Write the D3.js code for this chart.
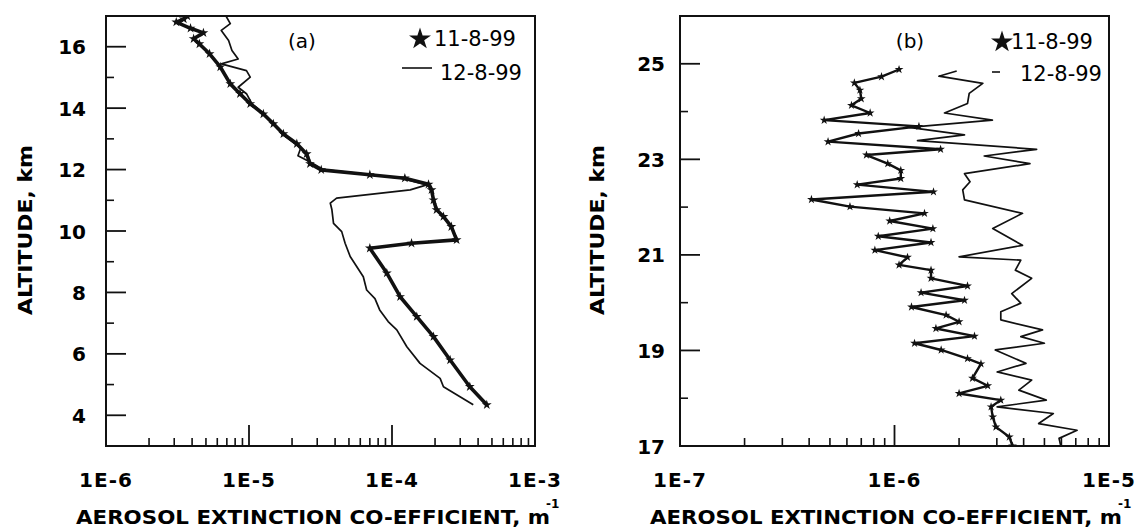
<!DOCTYPE html>
<html><head><meta charset="utf-8">
<script src="https://cdn.jsdelivr.net/npm/d3@7"></script>
<style>body{margin:0;background:#fff}svg{display:block}</style>
</head><body>
<svg id="c" width="1141" height="531"></svg>
<script>
// ---------- data ----------
const seriesNames = ["11-8-99", "12-8-99"];
const panelLabels = ["(a)", "(b)"];
const yTitle = "ALTITUDE, km";
const xTitle = "AEROSOL EXTINCTION CO-EFFICIENT, m";
const xTitleSup = "-1";

const xTickValuesA = [1e-6, 1e-5, 1e-4, 1e-3];
const xTickLabelsA = ["1E-6", "1E-5", "1E-4", "1E-3"];
const yTickValuesA = [4, 6, 8, 10, 12, 14, 16];
const yMinorA = [5, 7, 9, 11, 13, 15];

const xTickValuesB = [1e-7, 1e-6, 1e-5];
const xTickLabelsB = ["1E-7", "1E-6", "1E-5"];
const yTickValuesB = [17, 19, 21, 23, 25];
const yMinorB = [18, 20, 22, 24];

// panel (a) 11-8-99
const altA1 = [4.34, 4.93, 5.80, 6.56, 7.21, 7.86, 8.63, 9.44, 9.60, 9.71, 10.14, 10.47, 10.69, 11.01, 11.34, 11.52, 11.72, 11.83, 11.99, 12.19, 12.51, 12.84, 13.16, 13.49, 13.81, 14.14, 14.47, 14.79, 15.34, 15.77, 16.09, 16.26, 16.45, 16.6, 16.8, 16.9, 17.0];
const extA1 = [4.6e-4, 3.5e-4, 2.55e-4, 1.95e-4, 1.49e-4, 1.14e-4, 9.2e-5, 7.0e-5, 1.37e-4, 2.83e-4, 2.6e-4, 2.29e-4, 2.05e-4, 1.95e-4, 1.89e-4, 1.8e-4, 1.23e-4, 7.0e-5, 3.2e-5, 2.67e-5, 2.53e-5, 2.16e-5, 1.74e-5, 1.48e-5, 1.26e-5, 1.02e-5, 8.65e-6, 7.4e-6, 6.3e-6, 5.3e-6, 4.5e-6, 4.1e-6, 4.8e-6, 3.9e-6, 3.1e-6, 3.5e-6, 3.7e-6];
// panel (a) 12-8-99
const altA2 = [4.34, 4.93, 5.2, 5.69, 6.23, 6.78, 7.05, 7.43, 7.8, 8.08, 8.51, 9.17, 9.6, 9.98, 10.25, 10.69, 10.91, 11.07, 11.34, 11.5, 11.72, 11.85, 12.0, 12.2, 12.45, 12.7, 12.84, 13.16, 13.49, 13.81, 14.14, 14.47, 14.68, 15.01, 15.22, 15.44, 15.6, 15.88, 16.2, 16.53, 16.75, 17.0];
const extA2 = [3.7e-4, 2.29e-4, 2.17e-4, 1.57e-4, 1.27e-4, 1.08e-4, 9.4e-5, 8.2e-5, 7.6e-5, 6.65e-5, 6.3e-5, 5.1e-5, 4.7e-5, 4.45e-5, 3.9e-5, 3.8e-5, 3.7e-5, 4.1e-5, 1.34e-4, 1.75e-4, 1.15e-4, 6.5e-5, 3.3e-5, 2.8e-5, 2.2e-5, 2.3e-5, 2.1e-5, 1.7e-5, 1.5e-5, 1.28e-5, 1.05e-5, 9.6e-6, 8.4e-6, 1.02e-5, 9.6e-6, 6.4e-6, 8.4e-6, 7.6e-6, 7.2e-6, 6.4e-6, 7.4e-6, 6.9e-6];

// panel (b) 11-8-99
const altB1 = [17.0, 17.19, 17.4, 17.61, 17.82, 17.96, 18.1, 18.26, 18.42, 18.72, 18.83, 19.01, 19.15, 19.3, 19.46, 19.6, 19.74, 19.91, 20.05, 20.21, 20.35, 20.51, 20.68, 20.79, 20.95, 21.1, 21.26, 21.39, 21.55, 21.71, 21.87, 22.01, 22.16, 22.32, 22.47, 22.6, 22.77, 22.91, 23.09, 23.21, 23.37, 23.54, 23.69, 23.82, 23.97, 24.13, 24.27, 24.45, 24.6, 24.73, 24.88];
const extB1 = [3.55e-6, 3.43e-6, 2.97e-6, 2.87e-6, 2.82e-6, 3.13e-6, 2.0e-6, 2.72e-6, 2.31e-6, 2.53e-6, 2.19e-6, 1.65e-6, 1.24e-6, 2.36e-6, 1.56e-6, 2.0e-6, 1.74e-6, 1.2e-6, 2.12e-6, 1.33e-6, 2.19e-6, 1.48e-6, 1.48e-6, 1.05e-6, 1.15e-6, 8.1e-7, 1.48e-6, 8.4e-7, 1.51e-6, 9.5e-7, 1.38e-6, 6.2e-7, 4.1e-7, 1.52e-6, 6.7e-7, 1.07e-6, 1.07e-6, 9.3e-7, 7.4e-7, 1.64e-6, 4.9e-7, 6.8e-7, 1.3e-6, 4.7e-7, 7.7e-7, 6.3e-7, 7.0e-7, 6.9e-7, 6.5e-7, 8.7e-7, 1.05e-6];
// panel (b) 12-8-99
const altB2 = [17.0, 17.16, 17.33, 17.47, 17.68, 17.82, 17.96, 18.17, 18.38, 18.55, 18.73, 19.01, 19.15, 19.29, 19.43, 19.64, 19.81, 19.99, 20.19, 20.51, 20.68, 20.89, 20.96, 21.2, 21.55, 21.87, 22.15, 22.36, 22.53, 22.7, 22.91, 23.07, 23.21, 23.39, 23.51, 23.67, 23.82, 23.97, 24.17, 24.38, 24.59, 24.74, 24.85];
const extB2 = [5.96e-6, 5.85e-6, 7.1e-6, 4.7e-6, 5.5e-6, 3.01e-6, 5.1e-6, 3.8e-6, 4.36e-6, 3.01e-6, 4.1e-6, 2.95e-6, 5.0e-6, 3.88e-6, 4.9e-6, 3.13e-6, 3.13e-6, 3.88e-6, 3.52e-6, 4.36e-6, 3.66e-6, 3.88e-6, 2.0e-6, 3.95e-6, 2.87e-6, 3.95e-6, 2.12e-6, 2.08e-6, 2.25e-6, 2.12e-6, 4.28e-6, 2.62e-6, 4.6e-6, 1.28e-6, 2.12e-6, 1.17e-6, 2.86e-6, 1.71e-6, 2.19e-6, 2.23e-6, 2.58e-6, 1.61e-6, 1.95e-6];

// ---------- drawing ----------
const svg = d3.select("#c");
const FONT = "'DejaVu Sans', sans-serif";
const zip = (a, e) => a.map((v, i) => ({a: v, e: e[i]}));

function panel(o) {
  const g = svg.append("g");
  const x = d3.scaleLog().domain(o.xDomain).range([o.left, o.right]);
  const y = d3.scaleLinear().domain(o.yDomain).range([o.bottom, o.top]);

  const clipId = "clip" + o.id;
  svg.append("defs").append("clipPath").attr("id", clipId)
    .append("rect").attr("x", o.left).attr("y", o.top)
    .attr("width", o.right - o.left).attr("height", o.bottom - o.top);

  // minor x ticks
  const p0 = Math.round(Math.log10(o.xDomain[0])), p1 = Math.round(Math.log10(o.xDomain[1]));
  const minor = [];
  for (let p = p0; p < p1; p++) for (let m = 2; m <= 9; m++) minor.push(m * Math.pow(10, p));
  g.selectAll("line.mx").data(minor).join("line")
    .attr("x1", d => x(d)).attr("x2", d => x(d))
    .attr("y1", o.bottom).attr("y2", o.bottom - 8)
    .attr("stroke", "#111").attr("stroke-width", 1.6);
  // major x ticks (interior decades)
  const majors = o.xTicks.filter((d, i) => i > 0 && i < o.xTicks.length - 1);
  g.selectAll("line.Mx").data(majors).join("line")
    .attr("x1", d => x(d)).attr("x2", d => x(d))
    .attr("y1", o.bottom).attr("y2", o.bottom - 21)
    .attr("stroke", "#111").attr("stroke-width", 1.8);
  // x tick labels
  g.selectAll("text.xl").data(o.xTicks).join("text")
    .attr("x", d => x(d)).attr("y", 487)
    .attr("text-anchor", "middle")
    .attr("font-family", FONT).attr("font-weight", "bold").attr("font-size", 20)
    .attr("letter-spacing", 1)
    .text((d, i) => o.xLabels[i]);

  // y ticks
  g.selectAll("line.My").data(o.yTicks).join("line")
    .attr("x1", o.left).attr("x2", o.left + 20)
    .attr("y1", d => y(d)).attr("y2", d => y(d))
    .attr("stroke", "#111").attr("stroke-width", 1.8);
  g.selectAll("line.my").data(o.yMinor).join("line")
    .attr("x1", o.left).attr("x2", o.left + 8)
    .attr("y1", d => y(d)).attr("y2", d => y(d))
    .attr("stroke", "#111").attr("stroke-width", 1.6);
  g.selectAll("text.yl").data(o.yTicks).join("text")
    .attr("x", o.yLabelX).attr("y", d => y(d) + 7.5)
    .attr("text-anchor", "end")
    .attr("font-family", FONT).attr("font-weight", "bold").attr("font-size", 20)
    .text(d => d);

  // frame
  g.append("rect").attr("x", o.left).attr("y", o.top)
    .attr("width", o.right - o.left).attr("height", o.bottom - o.top)
    .attr("fill", "none").attr("stroke", "#111").attr("stroke-width", 2);

  // series
  const line = d3.line().x(d => x(d.e)).y(d => y(d.a));
  const plot = g.append("g").attr("clip-path", `url(#${clipId})`);
  plot.append("path").datum(o.s2).attr("d", line)
    .attr("fill", "none").attr("stroke", "#111").attr("stroke-width", 1.7)
    .attr("stroke-linejoin", "round");
  plot.append("path").datum(o.s1).attr("d", line)
    .attr("fill", "none").attr("stroke", "#111").attr("stroke-width", o.thick)
    .attr("stroke-linejoin", "round");
  plot.selectAll("path.mk").data(o.s1).join("path")
    .attr("transform", d => `translate(${x(d.e)},${y(d.a)})`)
    .attr("d", d3.symbol(d3.symbolStar, o.mk)())
    .attr("fill", "#111");

  // axis titles
  g.append("text")
    .attr("transform", `translate(${o.yTitleX},230) rotate(-90)`)
    .attr("text-anchor", "middle")
    .attr("font-family", FONT).attr("font-weight", "bold").attr("font-size", 20)
    .attr("textLength", 170).attr("lengthAdjust", "spacingAndGlyphs")
    .text(yTitle);
  g.append("text")
    .attr("x", o.xTitleX).attr("y", 524)
    .attr("font-family", FONT).attr("font-weight", "bold").attr("font-size", 20)
    .attr("textLength", o.xTitleLen).attr("lengthAdjust", "spacingAndGlyphs")
    .text(xTitle);
  g.append("text")
    .attr("x", o.xTitleX + o.xTitleLen - 4).attr("y", 508)
    .attr("font-family", FONT).attr("font-weight", "bold").attr("font-size", 12)
    .text(xTitleSup);

  // panel label
  g.append("text").attr("x", o.labelX).attr("y", 48)
    .attr("text-anchor", "middle")
    .attr("font-family", FONT).attr("font-size", 20)
    .text(o.label);

  // legend
  const L = o.legend;
  g.append("path").attr("transform", `translate(${L.starX},${L.starY})`)
    .attr("d", d3.symbol(d3.symbolStar, 150)()).attr("fill", "#111");
  g.append("text").attr("x", L.t1X).attr("y", L.t1Y)
    .attr("font-family", FONT).attr("font-size", 21).text(seriesNames[0]);
  g.append("line").attr("x1", L.lx1).attr("x2", L.lx2)
    .attr("y1", L.lY).attr("y2", L.lY)
    .attr("stroke", "#111").attr("stroke-width", 1.6);
  g.append("text").attr("x", L.t2X).attr("y", L.t2Y)
    .attr("font-family", FONT).attr("font-size", 21).text(seriesNames[1]);
}

panel({
  id: "a", left: 106, right: 535, top: 16, bottom: 446,
  xDomain: [1e-6, 1e-3], yDomain: [3, 17],
  xTicks: xTickValuesA, xLabels: xTickLabelsA,
  yTicks: yTickValuesA, yMinor: yMinorA, yLabelX: 86,
  s1: zip(altA1, extA1), s2: zip(altA2, extA2), thick: 3.6, mk: 30,
  yTitleX: 32, xTitleX: 76, xTitleLen: 474,
  label: panelLabels[0], labelX: 302,
  legend: {starX: 420, starY: 39, t1X: 434, t1Y: 46, lx1: 402, lx2: 432, lY: 68, t2X: 440, t2Y: 80}
});
panel({
  id: "b", left: 680, right: 1109, top: 16, bottom: 446,
  xDomain: [1e-7, 1e-5], yDomain: [17, 26],
  xTicks: xTickValuesB, xLabels: xTickLabelsB,
  yTicks: yTickValuesB, yMinor: yMinorB, yLabelX: 665,
  s1: zip(altB1, extB1), s2: zip(altB2, extB2), thick: 2.4, mk: 24,
  yTitleX: 604, xTitleX: 650, xTitleLen: 472,
  label: panelLabels[1], labelX: 910,
  legend: {starX: 1002, starY: 42, t1X: 1011, t1Y: 49, lx1: 992, lx2: 1000, lY: 72, t2X: 1020, t2Y: 81}
});
</script>
</body></html>
